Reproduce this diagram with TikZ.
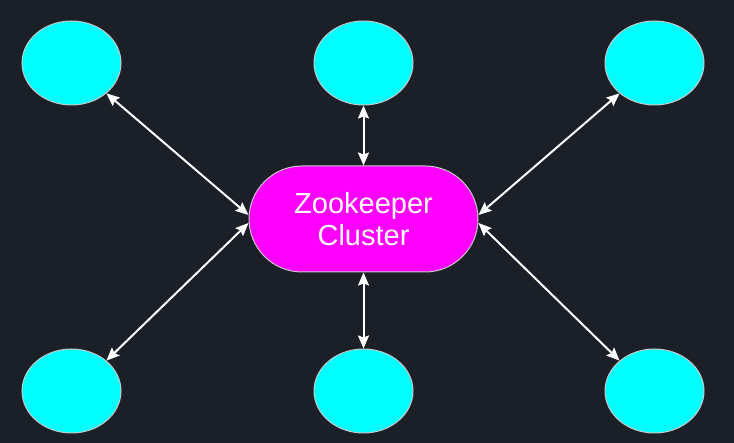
\documentclass[tikz,border=0pt]{standalone}
\usepackage{fontspec}
\setmainfont{Liberation Sans}
\usetikzlibrary{shapes.geometric,arrows.meta,calc}
\definecolor{bg}{HTML}{1B1F27}
\definecolor{cy}{HTML}{00FFFF}
\definecolor{mg}{HTML}{FF00FF}
\definecolor{bd}{HTML}{C8C8C8}
\tikzset{
  peer/.style={ellipse, draw=bd, line width=1pt, fill=cy, minimum width=99pt, minimum height=84pt, inner sep=0pt},
  hub/.style={rectangle, rounded corners=53pt, draw=bd, line width=1pt, fill=mg, minimum width=229pt, minimum height=106pt, text=white, align=center, font=\fontsize{29}{32}\selectfont},
  link/.style={draw=white, line width=2pt, {Stealth[length=13pt,width=11pt,inset=2pt]}-{Stealth[length=13pt,width=11pt,inset=2pt]}}
}
\begin{document}
\begin{tikzpicture}[x=1pt,y=-1pt]
\fill[bg] (0,0) rectangle (734,443);
\useasboundingbox (0,0) rectangle (734,443);
\node[hub] (c) at (363.5,219) {Zookeeper\\Cluster};
\node[peer] (tl) at (71.5,63) {};
\node[peer] (tm) at (363.5,63) {};
\node[peer] (tr) at (654.5,63) {};
\node[peer] (bl) at (71.5,391) {};
\node[peer] (bm) at (363.5,391) {};
\node[peer] (br) at (654.5,391) {};
\draw[link] (tl.-41) -- ($(c.west)+(0,-4)$);
\draw[link] (bl.41) -- ($(c.west)+(0,4)$);
\draw[link] (tr.221) -- ($(c.east)+(0,-4)$);
\draw[link] (br.139) -- ($(c.east)+(0,4)$);
\draw[link] (tm.south) -- (c.north);
\draw[link] (c.south) -- (bm.north);
\end{tikzpicture}
\end{document}
